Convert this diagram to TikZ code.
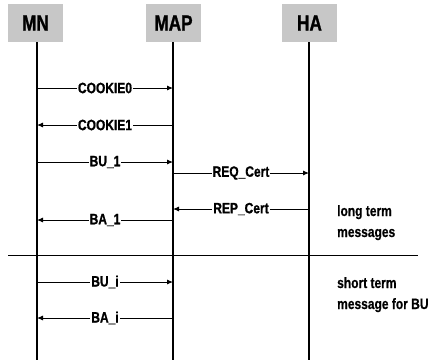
\documentclass[tikz,border=0pt]{standalone}
\usepackage{fontspec}
\newfontfamily\hf{Liberation Sans Bold}[FakeStretch=0.78,FakeBold=1.2]
\newfontfamily\cf{Liberation Sans Bold}[FakeStretch=0.8,FakeBold=0.9]
\newfontfamily\nf{Liberation Sans Bold}[FakeStretch=0.8,FakeBold=0.6]
\usetikzlibrary{arrows.meta}
\begin{document}
\begin{tikzpicture}[x=1pt,y=-1pt,
  hdr/.style={fill=black!22, minimum width=55pt, minimum height=38pt, inner sep=0pt, font=\hf\fontsize{22}{22}\selectfont},
  life/.style={line width=1.2pt},
  msg/.style={line width=0.9pt, -{Latex[length=6pt,width=5pt]}},
  lbl/.style={fill=white, inner sep=1pt, font=\cf\fontsize{15}{15}\selectfont},
  note/.style={align=left, anchor=base west, inner sep=0pt, font=\nf\fontsize{15}{21}\selectfont}]
\useasboundingbox (0,0) rectangle (445,360);
% headers
\node[hdr] (mn) at (35.5,23) {MN};
\node[hdr] (map) at (173.5,23) {MAP};
\node[hdr] (ha) at (309.5,23) {HA};
% lifeline ends
\coordinate (mnb) at (37,360);
\coordinate (mapb) at (173,360);
\coordinate (hab) at (309,360);
\draw[life] (mn.south -| mnb) -- (mnb);
\draw[life] (map.south -| mapb) -- (mapb);
\draw[life] (ha.south -| hab) -- (hab);
% message points
\coordinate (a1) at (37,88);  \coordinate (b1) at (173,88);
\coordinate (a2) at (37,125); \coordinate (b2) at (173,125);
\coordinate (a3) at (37,162); \coordinate (b3) at (173,162);
\coordinate (b4) at (173,173); \coordinate (c4) at (309,173);
\coordinate (b5) at (173,209); \coordinate (c5) at (309,209);
\coordinate (a6) at (37,220); \coordinate (b6) at (173,220);
\coordinate (a7) at (37,282); \coordinate (b7) at (173,282);
\coordinate (a8) at (37,318); \coordinate (b8) at (173,318);
\draw[msg] (a1) -- node[lbl]{COOKIE0} (b1);
\draw[msg] (b2) -- node[lbl]{COOKIE1} (a2);
\draw[msg] (a3) -- node[lbl]{BU\_1} (b3);
\draw[msg] (b4) -- node[lbl]{REQ\_Cert} (c4);
\draw[msg] (c5) -- node[lbl]{REP\_Cert} (b5);
\draw[msg] (b6) -- node[lbl]{BA\_1} (a6);
\draw[msg] (a7) -- node[lbl]{BU\_i} (b7);
\draw[msg] (b8) -- node[lbl]{BA\_i} (a8);
% separator
\coordinate (sl) at (8,255); \coordinate (sr) at (418,255);
\draw[line width=1pt] (sl) -- (sr);
% notes
\node[note] (n1) at (337,237) {long term\\messages};
\node[note] (n2) at (337,309) {short term\\message for BU};
\end{tikzpicture}
\end{document}
